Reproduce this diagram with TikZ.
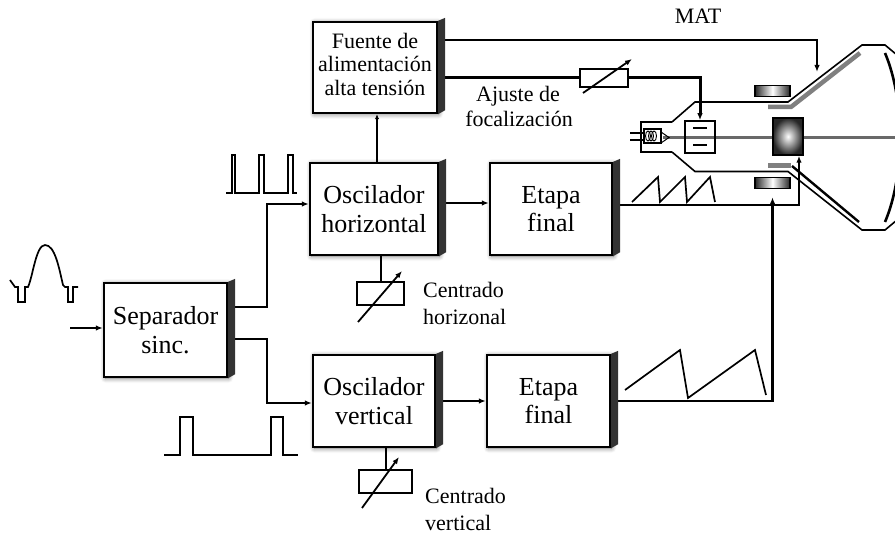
\documentclass[tikz,border=0pt]{standalone}
\usepackage{fontspec}
\setmainfont{Liberation Serif}
\usetikzlibrary{arrows.meta,shadows.blur}
\definecolor{coat}{RGB}{128,128,128}
\definecolor{beam}{RGB}{105,105,105}
\begin{document}
\begin{tikzpicture}[x=1pt,y=-1pt,
  blk/.style={draw=black, line width=2.4pt, fill=white, inner sep=0pt, align=center,
    font=\fontsize{26}{28.5}\selectfont,
    blur shadow={shadow xshift=1.5pt, shadow yshift=-1pt, shadow blur steps=8,
      shadow blur radius=5pt, shadow opacity=55}},
  wire/.style={line width=2pt},
  arr/.style={-{Latex[length=7pt,width=5.5pt]}},
  res/.style={draw=black, line width=1.8pt, fill=white, inner sep=0pt},
  pot/.style={line width=1.8pt, -{Latex[length=7pt,width=5.5pt]}},
  lbl/.style={font=\fontsize{22}{24}\selectfont, inner sep=0pt},
  wave/.style={line width=1.7pt, line join=miter},
  tube/.style={line width=1.6pt},
  coil/.style={draw=black, line width=1.5pt, inner sep=0pt, left color=black!85,
    right color=black!85, middle color=white},
]
\useasboundingbox (0,0) rectangle (895,537);

% ---------- signal-processing blocks ----------
\node[blk, minimum width=124pt, minimum height=91pt, text depth=7pt,
  font=\fontsize{22}{23.5}\selectfont] (fuente) at (375,67.5)
  {Fuente de\\alimentación\\alta tensión};
\node[blk, minimum width=128pt, minimum height=92pt] (oschor) at (374,209) {Oscilador\\horizontal};
\node[blk, minimum width=122pt, minimum height=92pt] (etapah) at (551,209) {Etapa\\final};
\node[blk, minimum width=123pt, minimum height=94pt] (sep) at (165.5,330) {Separador\\sinc.};
\node[blk, minimum width=122pt, minimum height=92pt] (oscver) at (374,401) {Oscilador\\vertical};
\node[blk, minimum width=123pt, minimum height=92pt] (etapav) at (548.5,401) {Etapa\\final};

% ---------- adjustable resistors ----------
\node[res, minimum width=47pt, minimum height=23pt] (rch) at (380.5,293.5) {};
\node[res, minimum width=53pt, minimum height=23pt] (rcv) at (385.5,481.5) {};
\node[res, minimum width=48pt, minimum height=18pt] (rfoc) at (604,78) {};
\draw[pot] ([shift={(-22.5,28.5)}]rch.center) -- ([shift={(21.5,-22.5)}]rch.center);
\draw[pot] ([shift={(-23.5,26.5)}]rcv.center) -- ([shift={(13.5,-24.5)}]rcv.center);
\draw[pot] ([shift={(-21,15)}]rfoc.center) -- ([shift={(28,-19)}]rfoc.center);

% ---------- labels ----------
\node[lbl, anchor=base] (mat) at (698,24) {MAT};
\node[lbl, anchor=base] (ajuste1) at (518,102) {Ajuste de};
\node[lbl, anchor=base] (ajuste2) at (519,127) {focalización};
\node[lbl, anchor=base west] (ch1) at (423,298) {Centrado};
\node[lbl, anchor=base west] (ch2) at (423,325) {horizonal};
\node[lbl, anchor=base west] (cv1) at (425,503) {Centrado};
\node[lbl, anchor=base west] (cv2) at (425,530) {vertical};

% ---------- picture tube ----------
% electron beam
\draw[beam, line width=3pt] (663,137.5) -- (897,137.5);
% neck and bulb outline
\draw[tube] (672,122) -- (641,122) -- (641,152) -- (672,152);
\draw[tube] (672,122) -- (695,102) -- (788,102) -- (862,45) -- (885,45) -- (897,55);
\draw[tube] (672,152) -- (695,171.5) -- (788,171.5) -- (862,230) -- (885,230) -- (897,220);
% screen face
\draw[line width=2.6pt] (885,53) .. controls (905,100) and (905,175) .. (885,222);
% anode coating
\draw[coat, line width=4.5pt] (768,107) -- (791,107) -- (860,53);
\draw[coat, line width=4.5pt] (768,165.5) -- (791,165.5);
\draw[line width=2.4pt] (792,166) -- (859,222);
% cathode, heater and pins
\draw[tube] (630,133) -- (644,133);
\draw[tube] (630,140) -- (644,140);
\draw[line width=1.4pt] (644,129) rectangle (661,143);
\foreach \i in {0,1,2}
  \draw[line width=0.9pt] (648+3*\i,136) ellipse[x radius=2.5pt, y radius=5pt];
\draw[line width=1pt] (661,132) -- (669,137.5) -- (661,143);
% focusing electrode
\node[draw=black, line width=1.5pt, minimum width=30pt, minimum height=32pt, inner sep=0pt]
  (foc) at (700,137) {};
\draw[line width=2pt] (693,128) -- (707,128);
\draw[line width=2pt] (693,145.5) -- (707,145.5);
% deflection yoke and coils
\node[draw=black, line width=1.5pt, minimum width=30pt, minimum height=37pt, inner sep=0pt,
  inner color=white, outer color=black!85] (yoke) at (788,136.5) {};
\node[coil, minimum width=35pt, minimum height=11pt] (coilU) at (772.5,91) {};
\node[coil, minimum width=35pt, minimum height=11pt] (coilD) at (772.5,183) {};
\coordinate (anode) at (817,72);

% ---------- waveforms ----------
\draw[wave] (10,280) -- (15,287) -- (18,287) -- (18,302) -- (25,302) -- (25,287) -- (28,287)
  .. controls (33,276) and (36,245) .. (45,245)
  .. controls (55,245) and (59,268) .. (63,285) -- (65,287) -- (68,287) -- (68,302)
  -- (73,302) -- (73,287) -- (78,287);
\draw[wave] (226,193) -- (232,193) -- (232,155) -- (235,155) -- (235,193) -- (259,193)
  -- (259,155) -- (264,155) -- (264,193) -- (288,193) -- (288,155) -- (293,155)
  -- (293,193) -- (297,193);
\draw[wave] (164,455) -- (180,455) -- (180,417) -- (193,417) -- (193,455) -- (271,455)
  -- (271,417) -- (283,417) -- (283,455) -- (298,455);
\draw[wave] (632,202) -- (658,177) -- (660,202) -- (685,177) -- (687,202) -- (710,177) -- (715,202);
\draw[wave] (625,390) -- (680,350) -- (688,398) -- (755,350) -- (766,395);

% ---------- connections ----------
\coordinate (vin) at (70,328);
\draw[wire, arr] (vin) -- ([yshift=2pt]sep.west);
\draw[wire, arr] ([yshift=23pt]sep.east) -- (267,307) -- (267,204) -- ([yshift=5pt]oschor.west);
\draw[wire, arr] ([yshift=-9pt]sep.east) -- (267,339) -- (267,403) -- ([yshift=-2pt]oscver.west);
\draw[wire, arr] ([yshift=6pt]oschor.east) -- ([yshift=6pt]etapah.west);
\draw[wire, arr] (oscver.east) -- (etapav.west);
\draw[wire, -{Latex[length=5pt,width=4.5pt]}] ([xshift=3pt]oschor.north)
  -- ([xshift=3pt]oschor.north |- fuente.south);
\draw[wire] (rch.north |- oschor.south) -- (rch.north);
\draw[wire] (rcv.north |- oscver.south) -- (rcv.north);
\draw[line width=2.4pt, arr] ([yshift=27.5pt]fuente.east) -- (817,40) -- (anode);
\draw[line width=3pt] ([yshift=-10.5pt]fuente.east) -- (rfoc.west);
\draw[line width=3pt, arr] (rfoc.east) -- (700,78) -- (foc.north);
\draw[line width=1.6pt, arr] ([yshift=4pt]etapah.east) -- (799,205) -- ([xshift=11pt]yoke.south);
\draw[line width=2.2pt, arr, shorten >=8pt] (etapav.east) -- (coilD.south |- etapav.east) -- (coilD.south);

% ---------- side faces of the blocks ----------
\foreach \b in {fuente,oschor,etapah,sep,oscver,etapav}
  \fill[black!80] (\b.north east) -- ++(7,-3) -- ([xshift=7pt,yshift=4pt]\b.south east)
    -- (\b.south east) -- cycle;
\end{tikzpicture}
\end{document}
